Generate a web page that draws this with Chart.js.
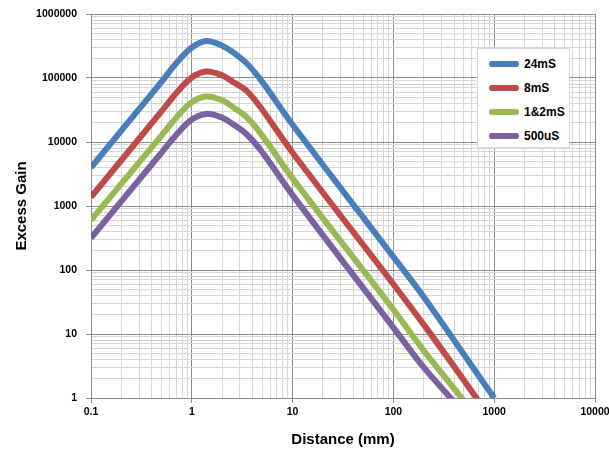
<!DOCTYPE html>
<html>
<head>
<meta charset="utf-8">
<script src="https://cdn.jsdelivr.net/npm/chart.js@4/dist/chart.umd.min.js"></script>
<style>
  body { margin: 0; background: #fff; }
  #wrap { position: relative; width: 609px; height: 462px; }
  #legend {
    position: absolute; left: 477px; top: 48px; width: 91px; height: 98px;
    background: #fff; border: 1px solid #d9d9d9;
    font: bold 12px "Liberation Sans", Arial, sans-serif; color: #000;
  }
  .row { position: absolute; left: 0; height: 14px; line-height: 14px; }
  .swatch { position: absolute; left: 11px; top: 4px; width: 30px; height: 6px; border-radius: 3px; }
  .lbl { position: absolute; left: 46px; top: 0; white-space: nowrap; }
</style>
</head>
<body>
<div id="wrap">
  <canvas id="myChart" width="609" height="462"></canvas>
  <div id="legend"></div>
</div>
<script>
// distance (mm) where values are read
var distance = [0.1, 0.5, 0.7, 1, 1.4, 2, 2.5, 3.5, 5, 10, 100, 200, 500, 1000];

var seriesNames = ["24mS", "8mS", "1&2mS", "500uS"];
var seriesColors = ["#4a7ebb", "#be4b48", "#98b954", "#7d60a0"];

var gain24ms = [4000, 87000, 170000, 300000, 380000, 320000, 260000, 170000, 87000, 18600, 160, 38, 4.8, 1];
var gain8ms = [1380, 30000, 58000, 102000, 126000, 110000, 89000, 63000, 32000, 6800, 60, 14, 1.9, 0.4];
var gain1and2ms = [600, 12600, 24000, 42000, 51500, 45000, 36000, 24500, 12600, 2700, 24, 5.5, 0.9, 0.2];
var gain500us = [316, 6800, 12900, 22400, 27500, 24000, 19500, 13200, 6900, 1480, 12.6, 3.0, 0.56, 0.1];

var xTickLabels = ["0.1", "1", "10", "100", "1000", "10000"];
var yTickLabels = ["1", "10", "100", "1000", "10000", "100000", "1000000"];

var allSeries = [gain24ms, gain8ms, gain1and2ms, gain500us];

function decadeTicks(minExp, maxExp) {
  let out = [];
  for (let e = minExp; e < maxExp; e++) {
    for (let m = 1; m <= 9; m++) {
      out.push({ value: Number((m * Math.pow(10, e)).toPrecision(3)) });
    }
  }
  out.push({ value: Math.pow(10, maxExp) });
  return out;
}

function isMajor(v) {
  let l = Math.log10(v);
  return Math.abs(l - Math.round(l)) < 1e-6;
}

function majorLabel(v, labels) {
  if (!isMajor(v)) return "";
  let s = String(Number(v.toPrecision(3)));
  return labels.indexOf(s) >= 0 ? s : "";
}

let tickFont = { family: "'Liberation Sans', Arial, sans-serif", size: 10.5, weight: "bold" };
let titleFont = { family: "'Liberation Sans', Arial, sans-serif", size: 15, weight: "bold" };

function gridColor(ctx) {
  if (!ctx.tick) return "#d6d6d6";
  return isMajor(ctx.tick.value) ? "#8e8e8e" : "#d6d6d6";
}
function tickColor(ctx) {
  if (!ctx.tick) return "rgba(0,0,0,0)";
  return isMajor(ctx.tick.value) ? "#8e8e8e" : "rgba(0,0,0,0)";
}

function noEdgePadding(s) {
  s.paddingLeft = 0;
  s.paddingRight = 0;
  s.paddingTop = 0;
  s.paddingBottom = 0;
}

let datasets = allSeries.map((vals, i) => ({
  label: seriesNames[i],
  data: distance.map((d, j) => ({ x: d, y: vals[j] })),
  borderColor: seriesColors[i],
  backgroundColor: seriesColors[i],
  borderWidth: 6,
  pointRadius: 0,
  fill: false,
  tension: 0.35,
  clip: 0,
}));

let chart = new Chart("myChart", {
  type: "line",
  data: { datasets: datasets },
  options: {
    responsive: false,
    animation: false,
    layout: { padding: { top: 14, right: 14, left: 0, bottom: 0 } },
    plugins: { legend: { display: false }, tooltip: { enabled: false } },
    scales: {
      x: {
        type: "logarithmic",
        min: 0.1,
        max: 10000,
        afterBuildTicks: (s) => { s.ticks = decadeTicks(-1, 4); },
        afterFit: (s) => { s.height = 64; noEdgePadding(s); },
        ticks: {
          autoSkip: false, maxRotation: 0, padding: 3,
          font: tickFont, color: "#000",
          callback: (v) => majorLabel(v, xTickLabels),
        },
        grid: { color: gridColor, tickColor: tickColor, tickLength: 5, lineWidth: 1 },
        border: { color: "#8e8e8e" },
        title: { display: true, text: "Distance (mm)", font: titleFont, color: "#000", padding: { top: 0, bottom: 13 } },
      },
      y: {
        type: "logarithmic",
        min: 1,
        max: 1000000,
        afterBuildTicks: (s) => { s.ticks = decadeTicks(0, 6); },
        afterFit: (s) => { s.width = 91; noEdgePadding(s); },
        ticks: {
          autoSkip: false, padding: 9,
          font: tickFont, color: "#000",
          callback: (v) => majorLabel(v, yTickLabels),
        },
        grid: { color: gridColor, tickColor: tickColor, tickLength: 5, lineWidth: 1 },
        border: { color: "#8e8e8e" },
        title: { display: true, text: "Excess Gain", font: titleFont, color: "#000", padding: { top: 13, bottom: 0 } },
      },
    },
  },
});

// legend box inside the plot, built from the datasets
let legend = document.getElementById("legend");
chart.data.datasets.forEach((ds, i) => {
  let row = document.createElement("div");
  row.className = "row";
  row.style.top = (8 + i * 24) + "px";
  row.style.width = "100%";
  row.innerHTML = '<span class="swatch" style="background:' + ds.borderColor + '"></span><span class="lbl"></span>';
  row.querySelector(".lbl").textContent = ds.label;
  legend.appendChild(row);
});
</script>
</body>
</html>
